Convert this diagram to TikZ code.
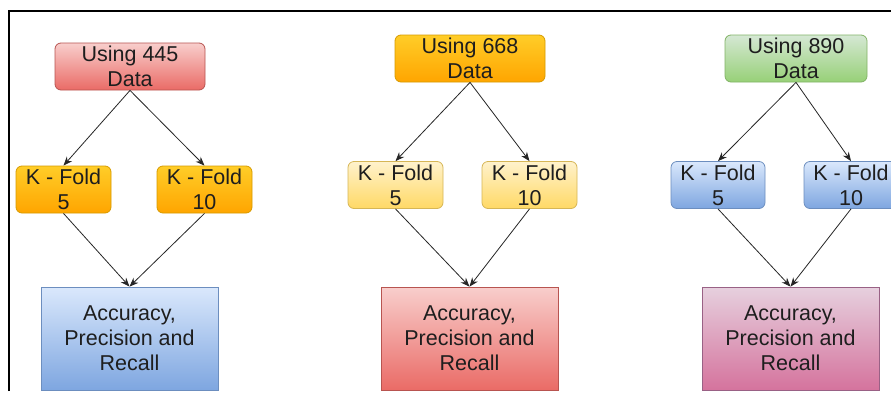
\documentclass[tikz,border=0pt]{standalone}
\usepackage{fontspec}
\setmainfont{Liberation Sans}
\usetikzlibrary{arrows.meta}
\definecolor{redT}{HTML}{F8CECC}\definecolor{redB}{HTML}{EA6B66}\definecolor{redD}{HTML}{B85450}
\definecolor{oraT}{HTML}{FFCD28}\definecolor{oraB}{HTML}{FFA500}\definecolor{oraD}{HTML}{D79B00}
\definecolor{yelT}{HTML}{FFF2CC}\definecolor{yelB}{HTML}{FFD966}\definecolor{yelD}{HTML}{D6B656}
\definecolor{greT}{HTML}{D5E8D4}\definecolor{greB}{HTML}{97D077}\definecolor{greD}{HTML}{82B366}
\definecolor{bluT}{HTML}{DAE8FC}\definecolor{bluB}{HTML}{7EA6E0}\definecolor{bluD}{HTML}{6C8EBF}
\definecolor{pinT}{HTML}{E6D0DE}\definecolor{pinB}{HTML}{D5739D}\definecolor{pinD}{HTML}{996185}
\definecolor{txt}{HTML}{1E1E1E}
\tikzset{
  box/.style={draw, line width=0.8pt, align=center, inner sep=0pt, text=txt,
    font=\fontsize{21.5}{25}\selectfont},
  rbox/.style={box, rounded corners=6pt},
  small/.style={minimum width=95pt, minimum height=47pt},
  top/.style={minimum width=150pt, minimum height=47pt},
  res/.style={box, minimum width=177pt, minimum height=103pt},
  fill red/.style={top color=redT, bottom color=redB, draw=redD},
  fill ora/.style={top color=oraT, bottom color=oraB, draw=oraD},
  fill yel/.style={top color=yelT, bottom color=yelB, draw=yelD},
  fill gre/.style={top color=greT, bottom color=greB, draw=greD},
  fill blu/.style={top color=bluT, bottom color=bluB, draw=bluD},
  fill pin/.style={top color=pinT, bottom color=pinB, draw=pinD},
  arr/.style={-{Stealth[length=9pt,width=7pt]}, line width=0.8pt, black!85}
}
\begin{document}
\begin{tikzpicture}[x=1pt,y=-1pt]
\useasboundingbox (0,0) rectangle (891,394);
\fill[white] (0,0) rectangle (891,394);
\draw[line width=1.5pt] (9,391) -- (9,11) -- (891,11);
% group 1
\node[rbox, top, fill red] (t1) at (130,66.5) {Using 445\\Data};
\node[rbox, small, fill ora] (a1) at (63.5,189.5) {K - Fold\\5};
\node[rbox, small, fill ora] (b1) at (204.5,189.5) {K - Fold\\10};
\node[res, fill blu] (c1) at (129.5,338.5) {Accuracy,\\Precision and\\Recall};
% group 2
\node[rbox, top, fill ora] (t2) at (470,58.5) {Using 668\\Data};
\node[rbox, small, fill yel] (a2) at (395.5,185) {K - Fold\\5};
\node[rbox, small, fill yel] (b2) at (529.5,185) {K - Fold\\10};
\node[res, fill red] (c2) at (469.5,338.5) {Accuracy,\\Precision and\\Recall};
% group 3
\node[rbox, top, minimum width=142pt, fill gre] (t3) at (796,58.5) {Using 890\\Data};
\node[rbox, small, minimum width=94pt, fill blu] (a3) at (718,185) {K - Fold\\5};
\node[rbox, small, minimum width=94pt, fill blu] (b3) at (851,185) {K - Fold\\10};
\node[res, fill pin] (c3) at (790.5,338.5) {Accuracy,\\Precision and\\Recall};
% arrows
\foreach \g in {1,2,3}{
  \draw[arr] (t\g.south) -- (a\g.north);
  \draw[arr] (t\g.south) -- (b\g.north);
  \draw[arr] (a\g.south) -- (c\g.north);
  \draw[arr] (b\g.south) -- (c\g.north);
}
\end{tikzpicture}
\end{document}
